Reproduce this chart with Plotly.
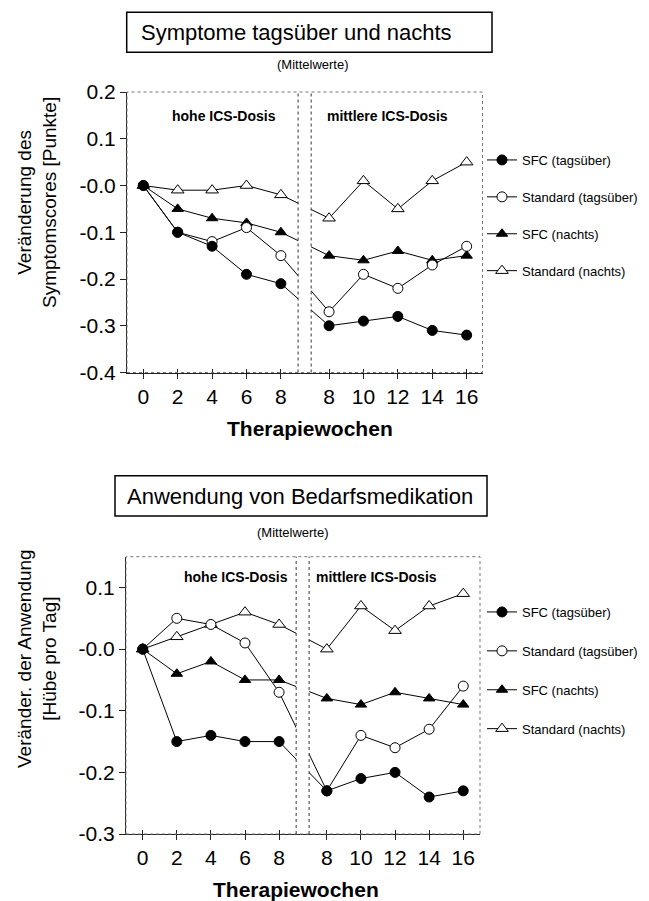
import plotly.graph_objects as go

# ---------------- data ----------------
weeks_hoch = [0, 2, 4, 6, 8]          # hohe ICS-Dosis
weeks_mittel = [8, 10, 12, 14, 16]    # mittlere ICS-Dosis

series_names = ["SFC (tagsüber)", "Standard (tagsüber)", "SFC (nachts)", "Standard (nachts)"]

# Symptome tagsüber und nachts (Veränderung des Symptomscores)
sym_sfc_tag = [0.00, -0.10, -0.13, -0.19, -0.21, -0.30, -0.29, -0.28, -0.31, -0.32]
sym_std_tag = [0.00, -0.10, -0.12, -0.09, -0.15, -0.27, -0.19, -0.22, -0.17, -0.13]
sym_sfc_nacht = [0.00, -0.05, -0.07, -0.08, -0.10, -0.15, -0.16, -0.14, -0.16, -0.15]
sym_std_nacht = [0.00, -0.01, -0.01, 0.00, -0.02, -0.07, 0.01, -0.05, 0.01, 0.05]

# Anwendung von Bedarfsmedikation (Hübe pro Tag)
bed_sfc_tag = [0.00, -0.15, -0.14, -0.15, -0.15, -0.23, -0.21, -0.20, -0.24, -0.23]
bed_std_tag = [0.00, 0.05, 0.04, 0.01, -0.07, -0.23, -0.14, -0.16, -0.13, -0.06]
bed_sfc_nacht = [0.00, -0.04, -0.02, -0.05, -0.05, -0.08, -0.09, -0.07, -0.08, -0.09]
bed_std_nacht = [0.00, 0.02, 0.04, 0.06, 0.04, 0.00, 0.07, 0.03, 0.07, 0.09]

sym_yticks = [0.2, 0.1, 0.0, -0.1, -0.2, -0.3, -0.4]
sym_yticktext = ["0.2", "0.1", "-0.0", "-0.1", "-0.2", "-0.3", "-0.4"]
bed_yticks = [0.1, 0.0, -0.1, -0.2, -0.3]
bed_yticktext = ["0.1", "-0.0", "-0.1", "-0.2", "-0.3"]

# ---------------- layout helpers ----------------
W, H = 649, 901
OFF = 8                 # page body margin of the rendered html
FONT = "Liberation Sans, Arial, sans-serif"
GAP_SHIFT = 1.4          # extra spacing (in tick units) for the axis break
BREAK_L, BREAK_R = 4.5, 4.88


def px(x):
    return (x - OFF) / W


def py(y):
    return 1 - (y - OFF) / H


def positions():
    return [w / 2 for w in weeks_hoch] + [w / 2 + GAP_SHIFT for w in weeks_mittel]


xpos = positions()
xticktext = [str(w) for w in weeks_hoch] + [str(w) for w in weeks_mittel]

styles = {
    "SFC (tagsüber)": dict(symbol="circle", color="black", size=10),
    "Standard (tagsüber)": dict(symbol="circle", color="white", size=10),
    "SFC (nachts)": dict(symbol="triangle-up", color="black", size=10),
    "Standard (nachts)": dict(symbol="triangle-up", color="white", size=11),
}

fig = go.Figure()

panels = [
    ("x", "y", "legend", [sym_sfc_tag, sym_std_tag, sym_sfc_nacht, sym_std_nacht]),
    ("x2", "y2", "legend2", [bed_sfc_tag, bed_std_tag, bed_sfc_nacht, bed_std_nacht]),
]

for xa, ya, lg, data in panels:
    # draw in reverse order so filled SFC markers lie on top
    for i in reversed(range(4)):
        name = series_names[i]
        st = styles[name]
        fig.add_trace(go.Scatter(
            x=xpos, y=data[i], mode="lines+markers", name=name,
            xaxis=xa, yaxis=ya, legend=lg, legendrank=i + 1,
            legendgroup=f"{lg}_{i}",
            line=dict(color="black", width=1),
            marker=dict(symbol=st["symbol"], size=st["size"], color=st["color"],
                        line=dict(color="black", width=1)),
            cliponaxis=False,
        ))

# empty helper traces so the overlay axes (inner half of the crossing ticks) get drawn
fig.add_trace(go.Scatter(x=[], y=[], xaxis="x3", yaxis="y", showlegend=False, hoverinfo="skip"))
fig.add_trace(go.Scatter(x=[], y=[], xaxis="x4", yaxis="y2", showlegend=False, hoverinfo="skip"))

axis_common = dict(showgrid=False, zeroline=False, showline=True, linecolor="#222",
                   linewidth=1, ticks="outside", tickcolor="#222", automargin=False,
                   tickfont=dict(family=FONT, size=21, color="black"))

# panel geometry (target pixels in the page)
top_box = dict(x0=127, x1=482.5, y0=92, y1=372.5)
bot_box = dict(x0=126, x1=480, y0=556.7, y1=834)
top_xrange = [(127 - 143.3) / 34.4, (482.5 - 143.3) / 34.4]
bot_xrange = [(126 - 142.7) / 34.1, (480 - 142.7) / 34.1]

inner_ticks = dict(showgrid=False, zeroline=False, showline=False, ticks="inside",
                   ticklen=4, tickcolor="#222", showticklabels=False, automargin=False,
                   tickmode="array", tickvals=xpos)

fig.update_layout(
    width=W, height=H,
    margin=dict(l=0, r=0, t=0, b=0, autoexpand=False),
    paper_bgcolor="white", plot_bgcolor="white",
    font=dict(family=FONT, color="black"),
    xaxis=dict(domain=[px(top_box["x0"]), px(top_box["x1"])], anchor="y",
               range=top_xrange,
               tickmode="array", tickvals=xpos, ticktext=xticktext, ticklen=5,
               **axis_common),
    xaxis3=dict(domain=[px(top_box["x0"]), px(top_box["x1"])], anchor="y",
                overlaying="x", range=top_xrange, **inner_ticks),
    yaxis=dict(domain=[py(top_box["y1"]), py(top_box["y0"])], anchor="x",
               range=[-0.4, 0.2], tickmode="array", tickvals=sym_yticks,
               ticktext=sym_yticktext, ticklen=6, **axis_common),
    xaxis2=dict(domain=[px(bot_box["x0"]), px(bot_box["x1"])], anchor="y2",
                range=bot_xrange,
                tickmode="array", tickvals=xpos, ticktext=xticktext, ticklen=5,
                **axis_common),
    xaxis4=dict(domain=[px(bot_box["x0"]), px(bot_box["x1"])], anchor="y2",
                overlaying="x2", range=bot_xrange, **inner_ticks),
    yaxis2=dict(domain=[py(bot_box["y1"]), py(bot_box["y0"])], anchor="x2",
                range=[-0.3, 0.15], tickmode="array", tickvals=bed_yticks,
                ticktext=bed_yticktext, ticklen=6, **axis_common),
    legend=dict(x=px(482), y=py(145), xanchor="left", yanchor="top",
                font=dict(family=FONT, size=13), tracegroupgap=17,
                bgcolor="rgba(0,0,0,0)", itemwidth=30),
    legend2=dict(x=px(482), y=py(597), xanchor="left", yanchor="top",
                 font=dict(family=FONT, size=13), tracegroupgap=19,
                 bgcolor="rgba(0,0,0,0)", itemwidth=30),
    showlegend=True,
)

shapes = []
annotations = []

for xa, ya, yr in [("x", "y", (-0.4, 0.2)), ("x2", "y2", (-0.3, 0.15))]:
    eps = (yr[1] - yr[0]) * 0.006
    # top/right frame (light, dotted)
    shapes.append(dict(type="rect", xref=f"{xa} domain", yref=f"{ya} domain",
                       x0=0, x1=1, y0=0, y1=1, line=dict(color="#777", width=1, dash="dot"),
                       layer="above"))
    # mask the axis break
    shapes.append(dict(type="rect", xref=xa, yref=ya, x0=BREAK_L, x1=BREAK_R,
                       y0=yr[0] + eps, y1=yr[1] - eps, fillcolor="white",
                       line=dict(width=0), layer="above"))
    for xb in (BREAK_L, BREAK_R):
        shapes.append(dict(type="line", xref=xa, yref=f"{ya} domain", x0=xb, x1=xb,
                           y0=0, y1=1, line=dict(color="#333", width=1, dash="dot"),
                           layer="above"))

# title boxes
shapes.append(dict(type="rect", xref="paper", yref="paper", x0=px(126.7), x1=px(492),
                   y0=py(52.3), y1=py(12.3), line=dict(color="black", width=1.5)))
shapes.append(dict(type="rect", xref="paper", yref="paper", x0=px(115), x1=px(487),
                   y0=py(516), y1=py(475.7), line=dict(color="black", width=1.5)))


def ann(text, x, y, size, bold=False, xanchor="center", angle=0):
    annotations.append(dict(text=f"<b>{text}</b>" if bold else text, x=px(x), y=py(y),
                            xref="paper", yref="paper", showarrow=False,
                            xanchor=xanchor, yanchor="middle", textangle=angle,
                            font=dict(family=FONT, size=size, color="black")))


ann("Symptome tagsüber und nachts", 139, 32.5, 22, xanchor="left")
ann("(Mittelwerte)", 313, 65, 13)
ann("Anwendung von Bedarfsmedikation", 125, 496, 22, xanchor="left")
ann("(Mittelwerte)", 293, 532, 13)

ann("hohe ICS-Dosis", 223.7, 115.7, 14, bold=True)
ann("mittlere ICS-Dosis", 387, 115.7, 14, bold=True)
ann("hohe ICS-Dosis", 235.7, 576.7, 14, bold=True)
ann("mittlere ICS-Dosis", 376.7, 576.7, 14, bold=True)

ann("Therapiewochen", 310, 428, 21, bold=True)
ann("Therapiewochen", 296, 889, 21, bold=True)

ann("Veränderung des<br>Symptomscores [Punkte]", 37, 203, 19, angle=-90)
ann("Veränder. der Anwendung<br>[Hübe pro Tag]", 37, 659, 19, angle=-90)

fig.update_layout(shapes=shapes, annotations=annotations)

fig.write_html("out.html")
